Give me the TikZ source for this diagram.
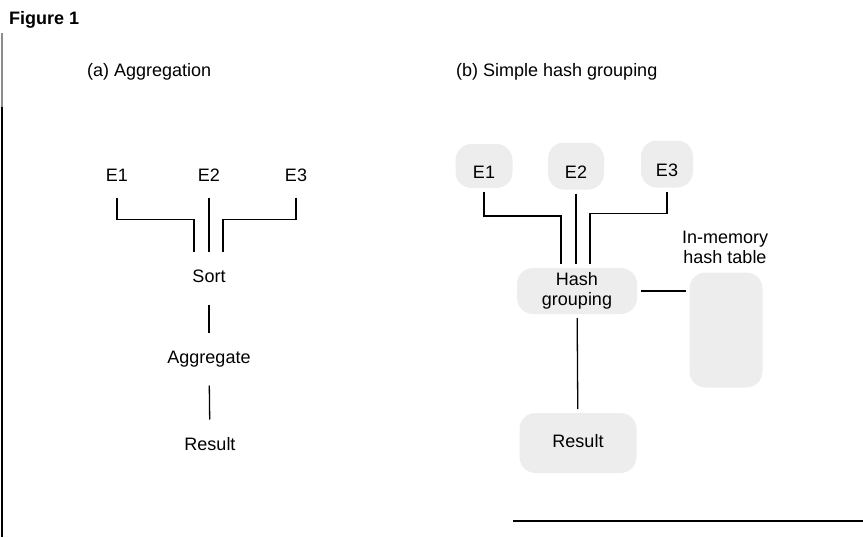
\documentclass[tikz,border=0pt]{standalone}
\usepackage{fontspec}
\setmainfont{Liberation Sans}
\begin{document}
\begin{tikzpicture}[x=1pt,y=-1pt,
  every node/.style={font=\fontsize{18}{20}\selectfont, inner sep=0pt},
  op/.style={text height=13pt, text depth=4pt, outer ysep=18pt},
  blob/.style={fill=black!7, rounded corners=16pt, outer sep=4pt},
  wire/.style={line width=1.3pt}]
\useasboundingbox (0,0) rectangle (863,538);

% frame
\draw[line width=1.4pt, black!45] (2,33) -- (2,107);
\draw[line width=1.4pt] (2,107) -- (2,537);
\draw[line width=1.8pt] (513,521) -- (863,521);
\node[anchor=west, font=\fontsize{18}{20}\selectfont\bfseries, text height=13pt, text depth=4pt] (fig) at (9,20) {Figure 1};

% (a) Aggregation
\node[anchor=west, op] (atitle) at (87,72) {(a) Aggregation};
\node[op, outer ysep=12pt] (ae1) at (117,177) {E1};
\node[op, outer ysep=12pt] (ae2) at (209,177) {E2};
\node[op, outer ysep=12pt] (ae3) at (296,177) {E3};
\node[op] (asort) at (209,278) {Sort};
\node[op] (aagg) at (209,359) {Aggregate};
\node[op] (ares) at (210,446) {Result};

\draw[wire] (ae1.south) -- ++(0,22) -| ([xshift=-15pt]asort.north);
\draw[wire] (ae2.south) -- (ae2.south |- asort.north);
\draw[wire] (ae3.south) -- ++(0,22) -| ([xshift=14pt]asort.north);
\draw[wire] (asort) -- (aagg);
\draw[wire] (aagg) -- (ares);

% (b) Simple hash grouping
\node[anchor=west, op] (btitle) at (456,72) {(b) Simple hash grouping};
\node[blob, text height=29pt, text depth=4pt, minimum width=57pt, minimum height=44pt] (be1) at (484,166) {E1};
\node[blob, text height=29pt, text depth=4pt, minimum width=56pt, minimum height=47pt] (be2) at (576,166) {E2};
\node[blob, text height=29pt, text depth=4pt, minimum width=52pt, minimum height=47pt] (be3) at (667,164) {E3};
\node[blob, align=center, minimum width=120pt, minimum height=46pt] (bhash) at (577,291) {Hash\\grouping};
\node[blob, op, outer sep=4pt, minimum width=117pt, minimum height=60pt] (bres) at (578,443) {Result};
\node[blob, minimum width=73pt, minimum height=115pt] (btable) at (726,330) {};
\node[align=center] (blabel) at (725,247) {In-memory\\hash table};

\draw[wire] (be1.south) -- ++(0,24) -| ([xshift=-16pt]bhash.north);
\draw[wire] (be2.south) -- (be2.south |- bhash.north);
\draw[wire] (be3.south) -- ++(0,22) -| ([xshift=13pt]bhash.north);
\draw[wire] (bhash.east) -- (bhash.east -| btable.west);
\draw[wire] (bhash) -- (bres);
\end{tikzpicture}
\end{document}
